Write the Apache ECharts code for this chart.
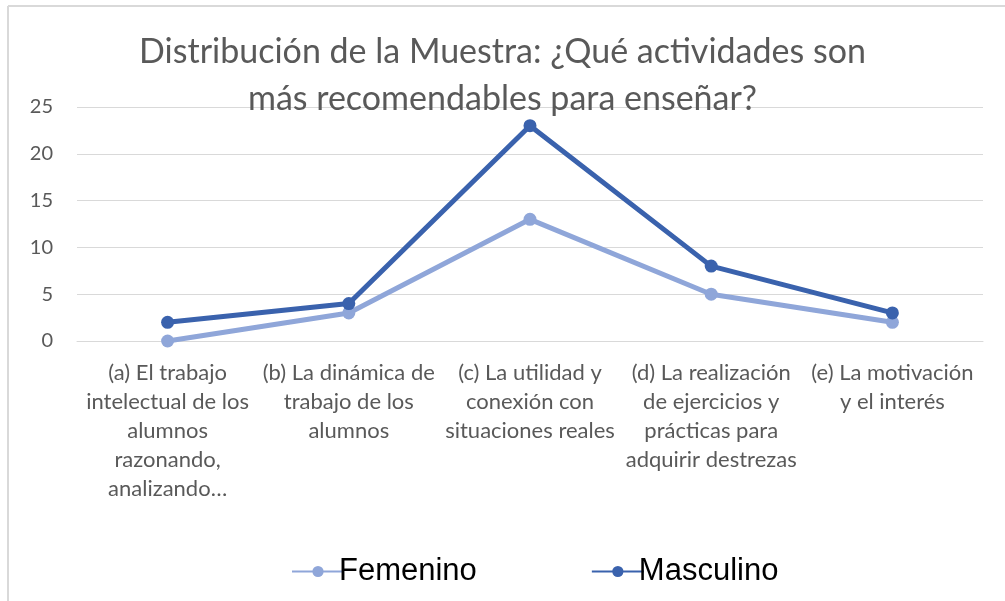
<!DOCTYPE html>
<html>
<head>
<meta charset="utf-8">
<script src="https://cdn.jsdelivr.net/npm/echarts@6/dist/echarts.min.js"></script>
<style>
  html, body { margin: 0; padding: 0; background: #fff; }
  #chart { width: 1005px; height: 601px; }
</style>
</head>
<body>
<div id="chart"></div>
<script>
const titleText = 'Distribución de la Muestra: ¿Qué actividades son\nmás recomendables para enseñar?'
const categories = [
  '(a) El trabajo\nintelectual de los\nalumnos\nrazonando,\nanalizando…',
  '(b) La dinámica de\ntrabajo de los\nalumnos',
  '(c) La utilidad y\nconexión con\nsituaciones reales',
  '(d) La realización\nde ejercicios y\nprácticas para\nadquirir destrezas',
  '(e) La motivación\ny el interés'
]
const femenino = [0, 3, 13, 5, 2]
const masculino = [2, 4, 23, 8, 3]

const myChart = echarts.init(document.getElementById('chart'))
myChart.setOption({
  color: ['#8FA6D9', '#3A62AD'],
  title: {
    text: titleText,
    left: 'center',
    top: 24,
    textStyle: {
      fontFamily: 'Lato',
      fontWeight: 'normal',
      fontSize: 34,
      lineHeight: 47,
      color: '#595959'
    }
  },
  legend: {
    data: ['Femenino', 'Masculino'],
    left: 286,
    top: 551,
    itemWidth: 52,
    itemHeight: 14,
    itemGap: 114,
    textStyle: {
      fontFamily: 'Liberation Sans',
      fontSize: 31,
      color: '#000',
      padding: [0, 0, 0, -10]
    }
  },
  grid: {
    left: 77,
    right: 22,
    top: 107,
    bottom: 260
  },
  xAxis: {
    type: 'category',
    data: categories,
    axisLine: { lineStyle: { color: '#d9d9d9' } },
    axisTick: { show: false },
    axisLabel: {
      interval: 0,
      margin: 17,
      fontFamily: 'Lato',
      fontSize: 22,
      lineHeight: 29,
      color: '#595959'
    }
  },
  yAxis: {
    type: 'value',
    min: 0,
    max: 25,
    interval: 5,
    axisLabel: {
      margin: 24,
      fontFamily: 'Lato',
      fontSize: 20,
      color: '#595959'
    },
    splitLine: { lineStyle: { color: '#d9d9d9', width: 1 } }
  },
  graphic: [
    { type: 'line', shape: { x1: 8, y1: 6, x2: 1005, y2: 6 }, style: { stroke: '#d9d9d9', lineWidth: 2 } },
    { type: 'line', shape: { x1: 8, y1: 6, x2: 8, y2: 601 }, style: { stroke: '#d9d9d9', lineWidth: 2 } }
  ],
  series: [
    {
      name: 'Femenino',
      type: 'line',
      data: femenino,
      symbol: 'circle',
      symbolSize: 13,
      lineStyle: { width: 5 }
    },
    {
      name: 'Masculino',
      type: 'line',
      data: masculino,
      symbol: 'circle',
      symbolSize: 13,
      lineStyle: { width: 5 }
    }
  ]
})
</script>
</body>
</html>
